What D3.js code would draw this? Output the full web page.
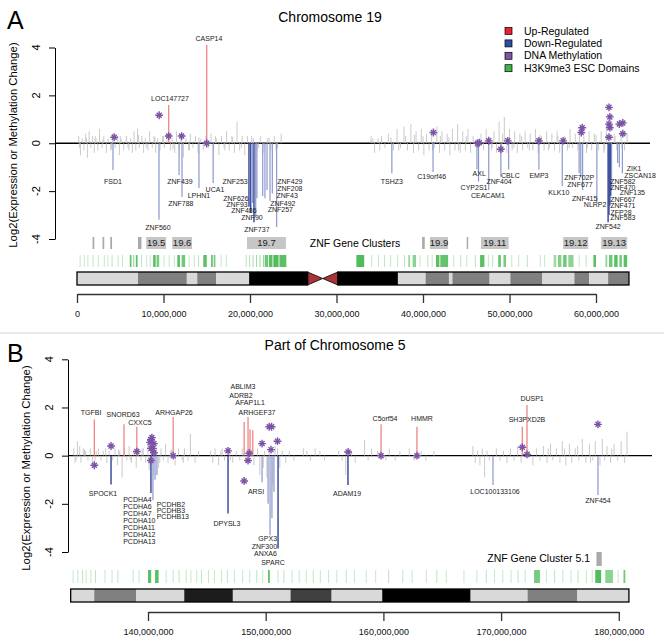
<!DOCTYPE html>
<html>
<head>
<meta charset="utf-8">
<script src="https://cdn.jsdelivr.net/npm/d3@7"></script>
<style>
body { margin: 0; background: #fff; }
</style>
</head>
<body>
<div class="chart"></div>
<script>
// ---------- Chromosome 19 (panel A), positions in Mb ----------
const grayA = [
[0.2,0.3],[0.4,-0.5],[0.6,0.2],[0.8,-0.3],[1.0,0.4],[1.2,-0.6],[1.4,0.5],[1.6,-0.2],[1.8,0.3],[2.0,-0.4],
[2.2,0.2],[2.4,-0.3],[2.6,0.6],[2.9,-0.2],[3.1,0.3],[3.4,-0.4],[3.6,0.2],[3.9,-0.3],[4.1,0.4],[4.4,-0.2],
[4.7,0.3],[4.9,-0.5],[5.1,0.2],[5.4,-0.3],[5.7,0.3],[5.9,-0.2],[6.2,0.2],[6.4,-0.4],[6.6,0.5],[6.8,-0.3],
[7.0,0.6],[7.2,-0.2],[7.5,0.3],[7.7,-0.4],[7.9,0.2],[8.2,-0.3],[8.4,0.5],[8.7,-0.2],[8.9,0.3],[9.1,-0.4],
[9.3,0.2],[9.6,-0.3],[9.9,0.3],[10.1,-0.2],[10.4,0.4],[10.8,-0.3],[11.0,0.2],[11.3,-0.4],[11.5,0.5],[11.8,-0.3],
[12.0,0.3],[12.3,-0.6],[12.6,0.2],[12.9,-0.3],[13.1,0.4],[13.4,-0.2],[13.7,0.3],[14.0,-0.4],[14.3,0.2],[14.6,-0.3],
[14.9,0.3],[15.2,-0.2],[15.5,0.4],[15.8,-0.3],[16.1,0.2],[16.4,-0.5],[16.7,0.3],[17.0,-0.2],[17.3,0.5],[17.6,-0.3],
[17.9,0.3],[18.2,-0.4],[18.5,0.9],[18.8,-0.3],[19.1,0.3],[19.4,-0.5],[19.7,0.3],[20.0,-0.4],[20.4,0.2],[20.8,-0.3],
[21.2,0.3],[21.6,-0.4],[22.0,0.2],[22.4,-0.3],[22.8,0.3],[23.2,-0.2],[23.6,0.4],
[0.3,-0.2],[1.1,0.2],[2.1,0.3],[3.0,0.15],[4.0,-0.25],[5.0,0.3],[6.0,-0.3],[7.1,0.35],[8.0,-0.2],[9.0,0.25],
[10.0,0.3],[11.1,-0.25],[12.1,0.2],[13.0,-0.3],[14.1,0.25],[15.0,-0.2],[16.0,0.3],[17.1,-0.3],[18.0,0.25],[19.0,-0.2],
[20.2,0.3],[21.0,-0.2],[22.2,0.25],[23.0,-0.3],
[34.0,0.3],[34.4,-0.4],[34.8,0.2],[35.2,0.3],[35.6,-0.2],[36.0,0.4],[36.6,-0.3],[37.0,0.6],[37.4,-0.2],[37.8,0.7],
[38.2,-0.3],[38.6,0.8],[38.9,-0.4],[39.2,0.5],[39.5,-0.3],[39.8,0.6],[40.1,-0.5],[40.4,0.4],[40.7,-0.3],[41.0,0.5],
[41.3,-0.2],[41.6,0.7],[41.9,-0.4],[42.2,0.5],[42.5,-0.3],[42.8,0.4],[43.1,-0.5],[43.4,0.6],[43.7,-0.3],[44.0,0.8],
[44.3,-0.4],[44.6,0.5],[44.9,-0.3],[45.2,0.6],[45.5,-0.4],[45.8,0.3],[46.1,-0.2],[46.7,0.4],[47.0,-0.3],[47.3,0.6],
[47.9,-0.3],[48.2,0.5],[48.5,-0.4],[48.8,0.9],[49.1,-0.3],[49.4,1.1],[49.7,-0.4],[50.0,0.6],[50.3,-0.3],[50.6,0.5],
[50.9,-0.4],[51.2,0.4],[51.5,-0.3],[51.8,0.5],[52.1,-0.2],[52.4,0.4],[52.7,-0.3],[53.0,0.6],[53.3,-0.4],[53.7,0.3],
[54.0,-0.3],[54.3,0.5],[54.6,-0.2],[54.9,0.4],[55.2,-0.3],[55.5,0.5],[55.8,-0.4],[56.4,0.3],[56.7,-0.3],[57.0,0.6],
[57.3,-0.2],[57.6,0.4],[57.9,-0.3],[58.6,0.3],[58.9,-0.4],[59.2,0.5],[59.5,-0.3],[59.8,0.4],[60.3,-0.3],[60.6,0.5],
[60.9,-0.4],[61.2,0.6],[61.8,-0.3],[62.1,0.4],[62.4,-0.3],[62.9,0.5],[63.3,-0.3],[63.6,0.4],
[34.2,0.2],[35.0,-0.3],[36.3,0.25],[37.2,-0.3],[38.0,0.3],[39.0,0.35],[40.0,0.3],[41.1,-0.3],[42.0,0.3],[43.0,0.25],
[44.1,-0.3],[45.0,0.3],[46.4,-0.25],[47.6,0.3],[48.0,-0.2],[49.2,0.4],[50.5,-0.2],[51.4,0.3],[52.3,-0.3],[53.5,0.35],
[54.5,-0.3],[55.6,0.3],[56.9,-0.2],[58.1,0.3],[59.0,-0.2],[60.0,0.35],[61.0,-0.3],[62.2,0.3],[63.0,-0.2]
];
const upA = [['CASP14',15.0,4.1],['LOC147727',10.6,1.6]];
// name, position, log2 change, strong (1) / weak (0)
const downA = [
['FSD1',4.16,-1.12,0],['ZNF560',9.48,-3.2,0],['ZNF439',11.8,-1.33,0],['ZNF788',12.14,-2.25,0],
['LPHN1',14.1,-1.87,0],['UCA1',15.74,-1.66,0],['ZNF253',19.88,-2.65,1],['ZNF626',20.08,-2.9,1],
['ZNF93',20.31,-2.5,0],['ZNF737',20.46,-3.3,1],['ZNF90',20.66,-3.05,0],['ZNF486',20.8,-2.3,0],
['ZNF257',21.47,-2.2,0],['ZNF492',21.73,-2.3,0],['ZNF43',21.97,-1.95,0],['ZNF208',22.31,-2.4,0],
['ZNF429',22.58,-2.1,0],['',23.08,-3.5,0],['TSHZ3',36.4,-1.25,0],['C19orf46',41.16,-1.2,0],
['AXL',46.24,-1.1,0],['CYP2S1',46.42,-1.6,0],['CEACAM1',47.6,-1.95,0],['ZNF404',49.0,-1.4,0],
['CBLC',49.9,-1.1,0],['EMP3',53.4,-1.1,0],['KLK10',56.1,-1.8,0],['ZNF702P',58.05,-1.25,0],
['ZNF677',58.24,-1.4,0],['ZNF415',58.45,-1.95,0],['NLRP2',60.1,-2.45,0],['ZNF542',61.4,-3.3,1],
['ZNF583',61.5,-3.0,1],['ZFP28',61.6,-2.6,1],['ZNF471',61.7,-2.2,1],['ZNF667',61.8,-1.9,0],
['ZNF470',62.5,-0.83,0],['ZNF582',62.7,-1.0,0],['ZNF135',63.05,-1.25,0]
];
const methA = [
[4.3,0.25],[9.5,1.17],[10.6,0.3],[12.1,0.3],[15.0,0],[41.2,0.45],[46.3,0.0],[46.5,0.02],[47.6,0.1],
[49.0,-0.25],[49.8,0.1],[53.4,0.1],[56.2,0.1],[58.3,0.45],[58.4,0.65],[61.5,1.5],[61.6,1.1],[61.5,0.8],
[61.6,0.65],[61.5,0.25],[62.7,0.8],[63.1,0.85],[63.1,0.4]
];
// label anchor points in data units (Mb, log2)
const labelsA = [
['CASP14',15.26,4.36],['LOC147727',10.75,1.85],['FSD1',4.16,-1.62],['ZNF560',9.36,-3.54],
['ZNF439',11.9,-1.62],['ZNF788',12.0,-2.5],['LPHN1',14.1,-2.2],['UCA1',15.95,-1.95],
['ZNF253',18.27,-1.62],['ZNF626',18.38,-2.29],['ZNF93',18.5,-2.54],['ZNF486',19.3,-2.83],
['ZNF90',20.23,-3.12],['ZNF737',20.8,-3.62],['ZNF429',24.6,-1.62],['ZNF208',24.6,-1.91],
['ZNF43',24.3,-2.2],['ZNF492',23.8,-2.5],['ZNF257',23.5,-2.79],['TSHZ3',36.4,-1.62],
['C19orf46',41.0,-1.41],['AXL',46.5,-1.25],['CYP2S1',45.9,-1.83],['CEACAM1',47.5,-2.2],
['ZNF404',48.8,-1.62],['CBLC',50.1,-1.37],['EMP3',53.4,-1.37],['KLK10',55.7,-2.08],
['ZNF702P',58.05,-1.45],['ZNF677',58.15,-1.74],['ZNF415',58.7,-2.29],['NLRP2',59.9,-2.58],
['ZNF542',61.4,-3.5],['ZNF583',63.1,-3.12],['ZFP28',62.9,-2.88],['ZNF471',63.1,-2.62],
['ZNF667',63.1,-2.37],['ZNF135',64.2,-2.08],['ZNF470',63.1,-1.84],['ZNF582',63.1,-1.58],
['ZSCAN18',65.1,-1.33],['ZIK1',64.4,-1.07]
];
const clustersA = [
['',1.8,2.0],['',2.95,3.15],['',3.85,4.05],['',7.05,7.45],['19.5',8.0,10.3],['19.6',11.0,13.3],
['19.7',19.65,24.15],['',39.9,40.2],['19.9',40.8,42.9],['',45.05,45.2],['19.11',46.7,49.9],
['19.12',56.2,59.1],['19.13',60.6,63.6]
];
// H3K9me3 domains: start, end, intensity
const greenA = [
[0.3,0.4,0.3],[0.8,0.9,0.25],[1.2,1.3,0.3],[1.8,1.9,0.35],[2.4,2.5,0.3],[3.1,3.2,0.3],[3.5,3.6,0.25],
[4.0,4.1,0.35],[4.7,4.8,0.3],[5.2,5.3,0.3],[6.1,6.3,0.8],[6.5,6.6,0.6],[6.8,7.0,0.85],[7.4,7.5,0.35],
[8.0,8.1,0.3],[8.4,8.5,0.3],[8.8,9.1,0.85],[9.2,9.5,0.7],[10.0,10.1,0.3],[10.6,10.7,0.3],[11.2,11.3,0.3],
[11.6,11.9,0.85],[12.1,12.5,0.75],[12.9,13.0,0.3],[13.5,13.6,0.3],[14.0,14.1,0.35],[14.6,15.0,0.85],
[15.5,15.7,0.8],[15.8,16.0,0.7],[16.6,16.7,0.3],[17.2,17.3,0.3],[19.5,19.6,0.35],[19.9,20.0,0.4],
[20.3,20.4,0.45],[20.7,20.8,0.5],[21.1,21.2,0.5],[21.5,21.6,0.55],[21.7,22.1,0.75],[22.2,22.6,0.85],
[22.7,23.3,0.9],[23.4,24.2,0.85],[32.3,33.2,0.9],[34.0,34.1,0.3],[34.8,34.9,0.3],[35.5,35.6,0.35],
[36.2,36.3,0.3],[37.0,37.1,0.3],[37.8,37.9,0.35],[38.3,38.5,0.55],[38.8,39.2,0.6],[39.6,39.7,0.3],
[40.5,40.6,0.35],[41.0,41.1,0.3],[41.5,41.9,0.85],[42.0,42.9,0.8],[43.5,43.6,0.3],[44.3,44.4,0.35],
[45.0,45.1,0.3],[46.0,46.1,0.35],[46.6,47.1,0.85],[47.5,47.6,0.3],[48.0,48.1,0.35],[48.7,49.0,0.8],
[49.3,49.6,0.7],[50.2,50.3,0.3],[51.0,51.1,0.3],[52.0,52.1,0.35],[53.5,53.6,0.3],[54.0,54.1,0.3],
[55.1,55.4,0.5],[55.6,56.0,0.65],[56.2,56.6,0.75],[56.8,57.4,0.6],[58.0,58.1,0.3],[58.8,58.9,0.35],
[59.7,60.0,0.85],[61.1,61.3,0.6],[61.5,61.9,0.75],[62.1,62.5,0.85],[62.7,63.0,0.7],[63.2,63.6,0.85]
];
const bandsA = [
[0,7.05,'gneg'],[7.05,12.7,'gpos50'],[12.7,13.9,'gneg'],[13.9,16.1,'gpos50'],[16.1,19.9,'gneg'],
[19.9,26.66,'gpos100'],[26.66,28.4,'acen'],[28.4,30.16,'acen'],[30.16,37.1,'gpos100'],[37.1,40.3,'gneg'],
[40.3,43.0,'gpos50'],[43.0,43.4,'gneg'],[43.4,47.7,'gpos50'],[47.7,50.1,'gneg'],[50.1,53.8,'gpos50'],
[53.8,57.5,'gneg'],[57.5,59.2,'gpos50'],[59.2,61.4,'gneg'],[61.4,63.81,'gpos50']
];
const ticksA = [0,10,20,30,40,50,60];

// ---------- Part of chromosome 5 (panel B) ----------
const grayB = [
[133.7,0.3],[133.9,-0.2],[134.0,0.6],[134.2,0.4],[134.3,-0.3],[134.5,0.3],[134.7,0.2],[134.9,-0.2],[135.1,0.3],[135.3,-0.4],
[135.6,0.2],[135.8,0.3],[136.0,-0.2],[136.2,0.2],[136.5,-0.3],[136.7,0.2],[137.0,-0.2],[137.2,0.3],[137.4,-0.4],[137.6,0.2],
[137.8,-0.9],[138.0,0.3],[138.2,-0.2],[138.4,0.4],[138.6,-0.3],[138.8,0.2],[139.0,-0.5],[139.2,0.3],[139.4,-0.2],[139.6,0.3],
[139.8,-0.3],[140.0,0.5],[140.1,-0.6],[140.3,0.4],[140.5,-0.8],[140.7,0.3],[140.9,-0.5],[141.1,0.3],[141.3,-0.2],[141.5,0.5],
[141.7,-0.3],[141.9,0.2],[142.3,-0.4],[142.6,0.3],[142.9,-0.2],[143.1,0.3],[143.4,-0.2],[143.6,0.9],[144.0,-0.3],[144.3,0.2],
[145.3,0.2],[145.5,-0.3],[145.7,0.3],[146.0,-0.4],[146.2,0.2],[146.5,-0.2],[146.9,0.3],[147.2,-0.3],[147.5,0.2],[147.8,-0.2],
[148.0,0.3],[148.3,-0.3],[148.8,0.2],[149.0,-0.4],[149.3,0.3],[149.5,-0.8],[149.9,0.2],[150.1,-0.9],[150.3,0.3],[150.6,-1.2],
[150.8,0.4],[151.2,-0.5],[151.4,0.2],[151.7,-0.3],[152.0,0.2],[152.4,-0.2],
[153.2,0.3],[153.5,0.2],[153.8,-0.2],[154.2,0.3],[154.6,0.2],[155.0,-0.2],[156.2,0.2],[156.5,-0.2],[156.8,-0.8],[157.3,0.2],
[157.6,-0.3],[158.4,0.65],[158.7,-0.2],[159.0,0.3],[159.5,0.2],[160.2,-0.2],[160.5,0.3],[161.0,-0.2],[161.4,0.2],[162.2,0.3],
[162.6,-0.2],[163.2,0.2],[163.6,-0.2],[164.3,0.2],
[167.6,0.4],[167.8,-0.3],[168.0,0.2],[168.2,-0.4],[168.4,0.3],[168.6,-0.9],[168.8,0.2],[169.0,-0.2],[169.6,0.3],[169.9,-0.2],
[170.2,0.2],[170.5,-0.3],[170.8,0.3],[171.1,-0.2],[171.4,0.4],[171.7,-0.3],[172.4,0.2],[172.7,-0.4],[173.0,0.3],[173.3,-0.2],
[173.6,0.4],[173.9,-0.3],[174.2,0.5],[174.4,-0.2],[174.7,0.3],[175.0,-0.3],[175.2,0.6],[175.5,-0.4],[175.8,0.5],[176.0,-0.3],
[176.3,0.3],[176.6,-0.2],[176.9,0.7],[177.2,-0.3],[177.5,0.5],[177.8,-0.2],[178.0,0.6],[178.4,-0.4],[178.6,0.7],[178.8,-0.2],
[179.0,0.4],[179.3,-0.3],[179.6,0.5],[179.9,-0.2],[180.2,0.6],[180.5,-0.3],[180.7,1.0],
[133.8,-0.3],[134.6,0.25],[135.5,-0.2],[136.4,0.3],[137.5,0.25],[138.5,-0.2],[139.5,0.3],[141.0,-0.3],[142.0,0.25],[143.0,-0.3],
[146.3,0.3],[147.0,-0.2],[148.6,0.3],[149.8,-0.5],[151.0,0.3],[174.0,0.3],[175.4,0.3],[176.5,0.4],[177.6,-0.3],[179.4,0.3]
];
const upB = [
['TGFBI',135.44,1.5],['SNORD63',137.96,1.3],['CXXC5',139.05,1.2],['ARHGAP26',142.14,1.6],['ABLIM3',148.17,1.4],
['ADRB2',148.5,1.6],['AFAP1L1',148.67,1.1],['ARHGEF37',148.9,1.05],['C5orf54',159.8,1.3],['HMMR',162.85,1.2],
['SH3PXD2B',171.8,1.2],['DUSP1',172.2,2.1]
];
const downB = [
['SPOCK1',136.86,-1.2,1],['PCDHA4',140.25,-1.55,1],['PCDHB2',140.42,-1.85,0],['',140.6,-1.0,0],['',140.76,-0.8,0],
['DPYSL3',146.8,-2.4,1],['ARSI',149.69,-1.1,0],['',150.2,-2.0,0],['GPX3',150.37,-3.3,0],['ZNF300',150.53,-2.6,0],
['ANXA6',150.7,-1.5,0],['SPARC',151.05,-3.85,1],['ADAM19',156.99,-1.22,1],['LOC100133106',169.31,-1.22,0],
['ZNF454',178.23,-1.63,0]
];
const methB = [
[135.44,-0.4],[136.86,0.4],[139.05,0.17],[140.17,0.55],[140.25,0.67],[140.33,0.75],[140.25,0.3],[140.42,0.3],
[140.5,0.5],[140.5,0.12],[140.25,-0.2],[142.14,0],[146.8,0.2],[148.17,-1.05],[148.5,-0.2],[148.6,0.1],
[149.69,0.5],[150.3,1.2],[150.5,1.2],[150.45,0.25],[151.0,0.6],[157.0,0.15],[159.8,0],[162.85,0],
[171.8,0.35],[172.2,0.05],[178.23,1.3]
];
const labelsB = [
['TGFBI',135.16,1.81],['SNORD63',137.88,1.69],['CXXC5',139.32,1.36],['ARHGAP26',142.21,1.77],
['ABLIM3',148.07,2.85],['ADRB2',147.9,2.48],['AFAP1L1',148.67,2.19],['ARHGEF37',149.26,1.81],
['C5orf54',160.14,1.52],['HMMR',163.28,1.52],['SH3PXD2B',172.2,1.48],['DUSP1',172.63,2.39],
['SPOCK1',136.18,-1.59],['DPYSL3',146.71,-2.83],['ARSI',149.18,-1.51],['ADAM19',156.91,-1.59],
['LOC100133106',169.48,-1.51],['ZNF454',178.23,-1.88],
['GPX3',150.17,-3.46],['ZNF300',149.89,-3.79],['ANXA6',149.98,-4.08],['SPARC',150.62,-4.45]
];
const pcdhaNames = ['PCDHA4','PCDHA6','PCDHA7','PCDHA10','PCDHA11','PCDHA12','PCDHA13'];
const pcdhbNames = ['PCDHB2','PCDHB3','PCDHB13'];
const clustersB = [['',178.1,178.55]];
const greenB = [
[133.6,133.68,0.3],[134.0,134.08,0.3],[134.4,134.48,0.35],[134.7,134.78,0.3],[135.1,135.18,0.3],[135.5,135.58,0.35],
[136.3,136.38,0.3],[136.9,136.98,0.3],[137.4,137.48,0.35],[138.7,138.78,0.3],[139.2,139.28,0.3],[140.0,140.27,0.85],
[140.6,140.9,0.85],[141.5,141.58,0.3],[142.1,142.18,0.3],[142.6,142.68,0.35],[143.2,143.28,0.3],[143.6,143.68,0.3],
[144.1,144.18,0.3],[144.5,144.58,0.35],[145.1,145.18,0.3],[145.6,145.68,0.3],[146.2,146.28,0.3],[146.7,146.78,0.35],
[147.3,147.38,0.3],[148.0,148.08,0.3],[148.6,148.68,0.3],[149.2,149.28,0.35],[149.7,149.78,0.3],[150.2,150.35,0.85],
[151.0,151.08,0.3],[151.5,151.58,0.35],[152.2,152.28,0.3],[152.8,152.88,0.3],[153.4,153.48,0.3],[154.0,154.08,0.35],
[154.6,154.68,0.3],[155.3,155.38,0.3],[156.0,156.08,0.3],[156.8,156.88,0.35],[157.5,157.58,0.3],[158.5,158.58,0.3],
[159.3,159.38,0.3],[160.4,160.48,0.35],[161.6,161.68,0.3],[162.4,162.48,0.3],[163.6,163.68,0.3],[164.5,164.58,0.35],
[165.3,165.38,0.3],[166.8,166.88,0.3],[167.9,167.98,0.3],[168.7,168.78,0.35],[169.4,169.48,0.3],[170.1,170.18,0.3],
[170.8,170.88,0.3],[171.4,171.48,0.35],[172.0,172.08,0.3],[172.8,173.3,0.7],[173.8,173.88,0.3],[174.5,174.58,0.35],
[175.2,175.28,0.3],[175.9,175.98,0.3],[176.5,176.58,0.35],[177.2,177.28,0.3],[177.7,177.78,0.3],[178.0,178.5,0.9],
[178.85,179.5,0.6],[179.9,179.98,0.3],[180.4,180.55,0.75]
];
const bandsB = [
[133.43,135.43,'gneg'],[135.43,138.98,'gpos50'],[138.98,143.08,'gneg'],[143.08,147.21,'gpos90'],
[147.21,152.11,'gneg'],[152.11,155.6,'gpos75'],[155.6,159.9,'gneg'],[159.9,167.41,'gpos100'],
[167.41,172.25,'gneg'],[172.25,176.48,'gpos50'],[176.48,180.86,'gneg']
];
const ticksB = [140,150,160,170,180];
const yTicks = [-4,-2,0,2,4];

const legendItems = [['Up-Regulated','#e8232a'],['Down-Regulated','#2f4fa2'],['DNA Methylation','#7f54a6'],['H3K9me3 ESC Domains','#3db54a']];

// ---------- drawing ----------
const font = '"Liberation Sans", Arial, Helvetica, sans-serif';
const stainColor = {gneg:'#d9d9d9', gpos50:'#808080', gpos75:'#404040', gpos90:'#1c1c1c', gpos100:'#000000', acen:'#a8343a'};
const redBar = '#f08585', blueStrong = '#3e4f9e', blueWeak = '#8d98cc', grayBar = '#c4c4c4', purple = '#7c52a6', green = '#3db54a';

const svg = d3.select('div.chart').append('svg')
	.attr('width', 664)
	.attr('height', 642)
	.style('font-family', font);

function drawPanel(p) {
	const x = p.x, y = p.y;
	const g = svg.append('g');

	// zero line
	g.append('line')
		.attr('x1', p.axisX).attr('x2', p.zeroEnd)
		.attr('y1', y(0)).attr('y2', y(0))
		.attr('stroke', '#000').attr('stroke-width', 1.3);

	g.selectAll('line.gray').data(p.gray).enter().append('line')
		.attr('class', 'gray')
		.attr('x1', d => x(d[0])).attr('x2', d => x(d[0]))
		.attr('y1', y(0)).attr('y2', d => y(d[1]))
		.attr('stroke', grayBar).attr('stroke-width', 0.9);

	g.selectAll('line.up').data(p.up).enter().append('line')
		.attr('x1', d => x(d[1])).attr('x2', d => x(d[1]))
		.attr('y1', y(0)).attr('y2', d => y(d[2]))
		.attr('stroke', redBar).attr('stroke-width', 1.3);

	g.selectAll('line.down').data(p.down).enter().append('line')
		.attr('x1', d => x(d[1])).attr('x2', d => x(d[1]))
		.attr('y1', y(0)).attr('y2', d => y(d[2]))
		.attr('stroke', d => d[3] ? blueStrong : blueWeak)
		.attr('stroke-width', d => d[3] ? 1.5 : 1.2);

	// methylation asterisks
	const star = g.selectAll('g.meth').data(p.meth).enter().append('g')
		.attr('transform', d => 'translate(' + x(d[0]) + ',' + y(d[1]) + ')');
	star.append('path').attr('d', d3.symbol(d3.symbolPlus, 22)())
		.attr('stroke', purple).attr('stroke-width', 1.4).attr('fill', 'none');
	star.append('path').attr('d', d3.symbol(d3.symbolTimes, 18)())
		.attr('stroke', purple).attr('stroke-width', 1.4).attr('fill', 'none');
	star.append('circle').attr('r', 1.7).attr('fill', purple);

	// gene labels
	g.selectAll('text.gene').data(p.labels).enter().append('text')
		.attr('x', d => x(d[1])).attr('y', d => y(d[2]))
		.attr('dy', '0.35em')
		.attr('text-anchor', 'middle')
		.attr('font-size', 7).attr('fill', '#1a1a1a')
		.text(d => d[0]);

	// y axis
	const yAxis = d3.axisLeft(y).tickValues(yTicks).tickSize(6).tickSizeOuter(0).tickFormat('');
	g.append('g')
		.attr('transform', 'translate(' + p.axisX + ',0)')
		.call(yAxis)
		.call(a => a.selectAll('path,line').attr('stroke', '#000').attr('stroke-width', 1));
	g.selectAll('text.ytick').data(yTicks).enter().append('text')
		.attr('transform', d => 'translate(' + (p.axisX - 15) + ',' + y(d) + ') rotate(-90)')
		.attr('text-anchor', 'middle')
		.attr('font-size', 11)
		.text(d => d);
	g.append('text')
		.attr('transform', 'translate(' + (p.axisX - 38) + ',' + p.ylabelY + ') rotate(-90)')
		.attr('text-anchor', 'middle')
		.attr('font-size', 11.3)
		.text('Log2(Expression or Methylation Change)');

	// panel letter and title
	g.append('text').attr('x', 7).attr('y', p.letterY).attr('font-size', 25).text(p.letter);
	g.append('text').attr('x', p.titleX).attr('y', p.titleY)
		.attr('text-anchor', 'middle').attr('font-size', 14).text(p.title);

	// ZNF clusters
	g.selectAll('rect.cl').data(p.clusters).enter().append('rect')
		.attr('x', d => x(d[1])).attr('width', d => Math.max(1.5, x(d[2]) - x(d[1])))
		.attr('y', p.clY).attr('height', p.clH)
		.attr('fill', d => d[0] ? '#c6c6c6' : '#aaaaaa');
	g.selectAll('text.cl').data(p.clusters.filter(d => d[0])).enter().append('text')
		.attr('x', d => (x(d[1]) + x(d[2])) / 2).attr('y', p.clY + p.clH / 2)
		.attr('dy', '0.35em').attr('text-anchor', 'middle')
		.attr('font-size', 9.5).attr('fill', '#222')
		.text(d => d[0]);
	g.append('text')
		.attr('x', p.clText[0]).attr('y', p.clText[1])
		.attr('text-anchor', p.clText[2]).attr('font-size', 10.5)
		.text(p.clText[3]);

	// H3K9me3 strip
	g.selectAll('rect.gr').data(p.green).enter().append('rect')
		.attr('x', d => x(d[0])).attr('width', d => Math.max(1, x(d[1]) - x(d[0])))
		.attr('y', p.grY).attr('height', p.grH)
		.attr('fill', green).attr('fill-opacity', d => d[2]);

	// ideogram
	const iy = p.idY, ih = p.idH;
	const acen = p.bands.filter(d => d[2] === 'acen');
	g.selectAll('rect.band').data(p.bands.filter(d => d[2] !== 'acen')).enter().append('rect')
		.attr('x', d => x(d[0])).attr('width', d => x(d[1]) - x(d[0]))
		.attr('y', iy).attr('height', ih)
		.attr('fill', d => stainColor[d[2]]);
	if (acen.length === 2) {
		const a0 = x(acen[0][0]), am = x(acen[0][1]), a1 = x(acen[1][1]);
		g.append('path')
			.attr('d', 'M' + a0 + ',' + iy + 'L' + am + ',' + (iy + ih / 2) + 'L' + a0 + ',' + (iy + ih) + 'Z')
			.attr('fill', stainColor.acen).attr('stroke', '#000').attr('stroke-width', 0.8);
		g.append('path')
			.attr('d', 'M' + a1 + ',' + iy + 'L' + am + ',' + (iy + ih / 2) + 'L' + a1 + ',' + (iy + ih) + 'Z')
			.attr('fill', stainColor.acen).attr('stroke', '#000').attr('stroke-width', 0.8);
		g.append('rect').attr('x', x(p.bands[0][0])).attr('width', a0 - x(p.bands[0][0]))
			.attr('y', iy).attr('height', ih).attr('fill', 'none').attr('stroke', '#000').attr('stroke-width', 1.3);
		g.append('rect').attr('x', a1).attr('width', x(p.bands[p.bands.length - 1][1]) - a1)
			.attr('y', iy).attr('height', ih).attr('fill', 'none').attr('stroke', '#000').attr('stroke-width', 1.3);
	} else {
		g.append('rect').attr('x', x(p.bands[0][0])).attr('width', x(p.bands[p.bands.length - 1][1]) - x(p.bands[0][0]))
			.attr('y', iy).attr('height', ih).attr('fill', 'none').attr('stroke', '#000').attr('stroke-width', 1.3);
	}

	// genomic axis
	const xAxis = d3.axisBottom(x).tickValues(p.ticks).tickSize(9).tickSizeOuter(0)
		.tickFormat(d => d3.format(',')(Math.round(d * 1e6)));
	g.append('g')
		.attr('transform', 'translate(0,' + p.axY + ')')
		.call(xAxis)
		.call(a => a.selectAll('path,line').attr('stroke', '#333').attr('stroke-width', 1.3))
		.call(a => a.selectAll('text').attr('font-size', 9).attr('font-family', font).attr('fill', '#111').attr('dy', '1.2em'));
}

const xA = d3.scaleLinear().domain([0, 60]).range([77, 596]);
const yA = d3.scaleLinear().domain([-4, 4]).range([239, 47.5]);
drawPanel({
	x: xA, y: yA, axisX: 55, zeroEnd: 650, ylabelY: 145,
	gray: grayA, up: upA, down: downA, meth: methA, labels: labelsA,
	letter: 'A', letterY: 29, title: 'Chromosome 19', titleX: 330, titleY: 22,
	clusters: clustersA, clY: 237, clH: 12, clText: [355, 246.5, 'middle', 'ZNF Gene Clusters'],
	green: greenA, grY: 255, grH: 12,
	bands: bandsA, idY: 272, idH: 13,
	ticks: ticksA, axY: 294
});

const xB = d3.scaleLinear().domain([140, 180]).range([148, 618.8]);
const yB = d3.scaleLinear().domain([-4, 4]).range([552, 359.3]);
drawPanel({
	x: xB, y: yB, axisX: 68, zeroEnd: 652, ylabelY: 468,
	gray: grayB, up: upB, down: downB, meth: methB, labels: labelsB,
	letter: 'B', letterY: 362, title: 'Part of Chromosome 5', titleX: 335, titleY: 350,
	clusters: clustersB, clY: 552, clH: 14, clText: [590, 562, 'end', 'ZNF Gene Cluster 5.1'],
	green: greenB, grY: 570, grH: 13,
	bands: bandsB, idY: 589, idH: 13,
	ticks: ticksB, axY: 612
});

// PCDH label blocks (left aligned)
svg.selectAll('text.pcdha').data(pcdhaNames).enter().append('text')
	.attr('x', xB(137.89)).attr('y', (d, i) => yB(-1.84) + i * 7)
	.attr('dy', '0.35em').attr('font-size', 7).attr('fill', '#1a1a1a')
	.text(d => d);
svg.selectAll('text.pcdhb').data(pcdhbNames).enter().append('text')
	.attr('x', xB(140.74)).attr('y', (d, i) => yB(-2.02) + i * 6.3)
	.attr('dy', '0.35em').attr('font-size', 7).attr('fill', '#1a1a1a')
	.text(d => d);

// legend
const leg = svg.append('g').attr('transform', 'translate(505,31)');
leg.selectAll('rect').data(legendItems).enter().append('rect')
	.attr('x', 0).attr('y', (d, i) => i * 12.4 - 3.5)
	.attr('width', 7).attr('height', 7)
	.attr('fill', d => d[1]).attr('stroke', '#000').attr('stroke-width', 0.7);
leg.selectAll('text').data(legendItems).enter().append('text')
	.attr('x', 19).attr('y', (d, i) => i * 12.4)
	.attr('dy', '0.35em').attr('font-size', 10.5)
	.text(d => d[0]);

// panel separator
svg.append('line').attr('x1', 0).attr('x2', 664).attr('y1', 333).attr('y2', 333)
	.attr('stroke', '#d4d4d4').attr('stroke-width', 1);
</script>
</body>
</html>
